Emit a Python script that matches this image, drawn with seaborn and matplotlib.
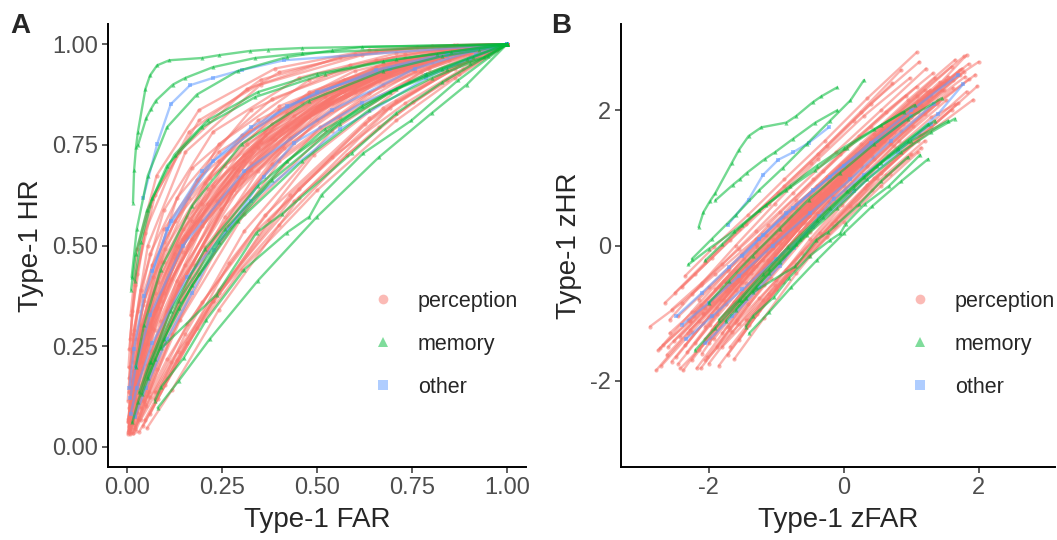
import matplotlib
matplotlib.use("Agg")
import matplotlib.pyplot as plt
from matplotlib.lines import Line2D
from matplotlib.ticker import FixedLocator, StrMethodFormatter
from statistics import NormalDist
import pandas as pd
import seaborn as sns

# ---------------- data (z-space ROC points) ----------------
categories = ["perception", "memory", "other"]
cat_colors = ["#F8766D", "#00BA38", "#619CFF"]
cat_markers = ["o", "^", "s"]

perception_zfar = [
    [-2.87, -2.40, -1.90, -1.30, -0.70, -0.05, 0.55],
    [-2.78, -2.30, -1.75, -1.10, -0.45, 0.20, 0.90],
    [-2.70, -2.25, -1.70, -1.05, -0.35, 0.40, 1.15],
    [-2.60, -2.05, -1.45, -0.80, -0.10, 0.65, 1.40],
    [-2.55, -2.10, -1.55, -0.95, -0.30, 0.40, 1.08],
    [-2.48, -2.00, -1.45, -0.85, -0.20, 0.45, 1.10],
    [-2.42, -1.95, -1.40, -0.78, -0.12, 0.55, 1.25],
    [-2.38, -1.90, -1.35, -0.70, 0.00, 0.70, 1.45],
    [-2.30, -1.85, -1.30, -0.65, 0.05, 0.80, 1.55],
    [-2.25, -1.80, -1.25, -0.60, 0.10, 0.85, 1.62],
    [-2.20, -1.75, -1.20, -0.55, 0.15, 0.90, 1.70],
    [-2.15, -1.70, -1.15, -0.52, 0.18, 0.95, 1.75],
    [-2.10, -1.65, -1.10, -0.45, 0.25, 1.00, 1.80],
    [-2.05, -1.60, -1.05, -0.40, 0.30, 1.05, 1.85],
    [-2.00, -1.55, -1.00, -0.35, 0.35, 1.10, 1.92],
    [-1.95, -1.50, -0.95, -0.30, 0.40, 1.15, 2.00],
    [-1.88, -1.42, -0.88, -0.25, 0.45, 1.20, 1.95],
    [-1.80, -1.35, -0.82, -0.18, 0.50, 1.25, 1.72],
    [-1.72, -1.28, -0.75, -0.12, 0.55, 1.30, 1.98],
    [-1.65, -1.20, -0.68, -0.05, 0.62, 1.35, 1.82],
    [-2.65, -2.20, -1.68, -1.10, -0.48, 0.15, 0.72],
    [-2.50, -2.05, -1.55, -0.98, -0.38, 0.25, 0.85],
    [-2.35, -1.92, -1.42, -0.88, -0.28, 0.35, 1.08],
    [-2.45, -2.00, -1.50, -0.90, -0.25, 0.45, 1.20],
    [-2.58, -2.12, -1.60, -1.00, -0.35, 0.30, 1.00],
    [-2.20, -1.78, -1.28, -0.70, -0.05, 0.62, 1.35],
    [-1.90, -1.48, -0.98, -0.40, 0.25, 0.95, 1.65],
    [-1.55, -1.12, -0.62, -0.02, 0.65, 1.30, 1.65],
    [-1.45, -1.02, -0.50, 0.10, 0.75, 1.40, 1.85],
    [-2.05, -1.62, -1.12, -0.55, 0.08, 0.75, 1.45],
    [-2.75, -2.28, -1.75, -1.15, -0.50, 0.18, 0.88],
    [-2.32, -1.88, -1.38, -0.80, -0.15, 0.55, 1.28],
    [-1.98, -1.55, -1.05, -0.48, 0.15, 0.85, 1.60],
    [-2.12, -1.68, -1.18, -0.62, 0.02, 0.70, 1.40],
    [-1.75, -1.32, -0.82, -0.25, 0.40, 1.08, 1.78],
    [-2.62, -2.15, -1.62, -1.02, -0.38, 0.28, 0.95],
    [-2.28, -1.82, -1.30, -0.72, -0.08, 0.60, 1.30],
    [-2.18, -1.72, -1.22, -0.65, 0.00, 0.68, 1.38],
    [-1.85, -1.40, -0.90, -0.32, 0.32, 1.00, 1.70],
    [-2.40, -1.95, -1.45, -0.88, -0.25, 0.40, 1.12],
    [-2.00, -1.58, -1.08, -0.52, 0.10, 0.78, 1.48],
    [-1.70, -1.28, -0.80, -0.22, 0.42, 1.10, 1.78],
    [-2.52, -2.08, -1.58, -1.00, -0.40, 0.25, 0.92],
    [-1.62, -1.18, -0.70, -0.12, 0.50, 1.15, 1.60],
    [-2.08, -1.65, -1.15, -0.58, 0.05, 0.72, 1.42],
    [-2.42, -1.98, -1.48, -0.92, -0.30, 0.35, 1.02],
    [-1.95, -1.52, -1.02, -0.45, 0.18, 0.85, 1.52],
    [-2.68, -2.22, -1.70, -1.12, -0.50, 0.15, 0.82],
    [-1.78, -1.35, -0.85, -0.28, 0.35, 1.02, 1.72],
    [-2.25, -1.80, -1.30, -0.75, -0.12, 0.55, 1.22],
    [-2.55, -2.08, -1.55, -0.95, -0.30, 0.38, 1.05],
    [-2.35, -1.88, -1.35, -0.75, -0.10, 0.58, 1.28],
    [-2.15, -1.70, -1.18, -0.58, 0.08, 0.75, 1.48],
    [-1.92, -1.48, -0.98, -0.40, 0.25, 0.92, 1.62],
    [-2.72, -2.25, -1.72, -1.12, -0.45, 0.22, 0.92],
    [-2.45, -1.98, -1.45, -0.85, -0.20, 0.48, 1.18],
    [-2.02, -1.58, -1.08, -0.50, 0.15, 0.82, 1.52],
    [-1.68, -1.25, -0.75, -0.18, 0.45, 1.12, 1.82],
    [-2.28, -1.82, -1.30, -0.70, -0.05, 0.62, 1.32],
    [-2.58, -2.12, -1.60, -1.02, -0.38, 0.30, 0.98],
    [-1.45, -1.10, -0.70, -0.25, 0.20, 0.68, 1.15],
    [-1.80, -1.42, -1.00, -0.52, 0.00, 0.55, 1.10],
    [-1.60, -1.25, -0.85, -0.40, 0.10, 0.62, 1.20],
    [-2.05, -1.65, -1.20, -0.70, -0.15, 0.42, 1.00],
]
perception_zhr = [
    [-1.20, -0.85, -0.42, 0.10, 0.62, 1.15, 1.62],
    [-1.85, -1.29, -0.68, 0.00, 0.63, 1.25, 1.83],
    [-1.78, -1.28, -0.66, 0.04, 0.75, 1.45, 2.08],
    [-1.50, -0.92, -0.30, 0.36, 1.05, 1.75, 2.35],
    [-0.95, -0.55, -0.05, 0.50, 1.10, 1.75, 2.35],
    [-1.65, -1.06, -0.41, 0.26, 0.95, 1.55, 2.14],
    [-1.35, -0.82, -0.23, 0.43, 1.07, 1.70, 2.28],
    [-1.85, -1.19, -0.49, 0.27, 1.00, 1.65, 2.30],
    [-1.10, -0.62, -0.10, 0.52, 1.15, 1.85, 2.50],
    [-1.70, -1.10, -0.42, 0.33, 1.05, 1.70, 2.33],
    [-1.45, -0.86, -0.21, 0.49, 1.20, 1.90, 2.56],
    [-0.80, -0.35, 0.15, 0.75, 1.35, 2.00, 2.62],
    [-1.60, -0.95, -0.25, 0.49, 1.20, 1.90, 2.50],
    [-1.20, -0.66, -0.04, 0.66, 1.35, 2.05, 2.69],
    [-1.75, -1.16, -0.51, 0.19, 0.90, 1.55, 2.16],
    [-1.05, -0.54, 0.04, 0.72, 1.40, 2.15, 2.72],
    [-1.50, -0.87, -0.18, 0.55, 1.28, 1.95, 2.53],
    [-1.30, -0.67, -0.01, 0.73, 1.45, 2.15, 2.52],
    [-1.62, -1.02, -0.35, 0.36, 1.07, 1.75, 2.36],
    [-0.95, -0.39, 0.23, 0.91, 1.60, 2.32, 2.82],
    [-0.85, -0.42, 0.08, 0.62, 1.22, 1.85, 2.40],
    [-0.70, -0.25, 0.25, 0.78, 1.35, 1.98, 2.60],
    [-0.45, -0.02, 0.45, 0.98, 1.55, 2.18, 2.86],
    [-1.05, -0.62, -0.12, 0.42, 1.02, 1.65, 2.30],
    [-1.30, -0.88, -0.38, 0.18, 0.78, 1.40, 2.02],
    [-0.98, -0.52, -0.02, 0.55, 1.18, 1.82, 2.48],
    [-0.65, -0.20, 0.30, 0.88, 1.50, 2.15, 2.75],
    [-1.40, -0.79, -0.11, 0.60, 1.33, 1.90, 2.09],
    [-1.18, -0.58, 0.09, 0.79, 1.48, 2.12, 2.46],
    [-1.38, -0.83, -0.22, 0.44, 1.10, 1.75, 2.39],
    [-1.55, -1.12, -0.62, -0.05, 0.55, 1.18, 1.80],
    [-1.58, -1.01, -0.40, 0.26, 0.92, 1.60, 2.25],
    [-0.88, -0.42, 0.10, 0.68, 1.30, 1.98, 2.65],
    [-1.82, -1.25, -0.58, 0.12, 0.82, 1.50, 2.15],
    [-0.55, -0.10, 0.40, 0.98, 1.58, 2.22, 2.80],
    [-1.62, -1.12, -0.57, 0.06, 0.70, 1.33, 1.93],
    [-1.25, -0.80, -0.30, 0.28, 0.90, 1.55, 2.22],
    [-1.82, -1.20, -0.52, 0.18, 0.88, 1.52, 2.10],
    [-1.78, -1.18, -0.54, 0.16, 0.85, 1.50, 2.11],
    [-0.62, -0.18, 0.32, 0.88, 1.48, 2.10, 2.72],
    [-1.45, -0.86, -0.24, 0.44, 1.12, 1.78, 2.41],
    [-1.20, -0.65, -0.04, 0.65, 1.33, 1.97, 2.57],
    [-1.42, -1.00, -0.50, 0.05, 0.65, 1.28, 1.92],
    [-1.68, -1.07, -0.41, 0.30, 1.00, 1.63, 2.01],
    [-1.02, -0.58, -0.08, 0.50, 1.12, 1.78, 2.42],
    [-1.82, -1.37, -0.77, -0.12, 0.53, 1.17, 1.77],
    [-1.25, -0.71, -0.12, 0.54, 1.20, 1.85, 2.45],
    [-1.48, -1.05, -0.55, 0.00, 0.60, 1.22, 1.85],
    [-0.80, -0.35, 0.15, 0.72, 1.35, 1.98, 2.60],
    [-0.72, -0.28, 0.22, 0.78, 1.38, 2.00, 2.62],
    [-1.72, -1.15, -0.52, 0.15, 0.85, 1.52, 2.08],
    [-1.48, -0.92, -0.30, 0.38, 1.08, 1.72, 2.30],
    [-1.55, -0.98, -0.35, 0.35, 1.05, 1.68, 2.30],
    [-1.38, -0.82, -0.20, 0.48, 1.18, 1.85, 2.45],
    [-1.52, -0.98, -0.38, 0.30, 0.98, 1.62, 2.22],
    [-1.75, -1.18, -0.55, 0.12, 0.82, 1.48, 2.05],
    [-1.65, -1.10, -0.48, 0.20, 0.90, 1.55, 2.15],
    [-1.50, -0.95, -0.35, 0.32, 1.00, 1.65, 2.28],
    [-1.12, -0.58, 0.02, 0.68, 1.35, 1.98, 2.55],
    [-1.10, -0.58, 0.00, 0.62, 1.28, 1.92, 2.48],
    [-1.10, -0.72, -0.30, 0.13, 0.60, 1.06, 1.45],
    [-1.50, -1.10, -0.65, -0.15, 0.35, 0.88, 1.38],
    [-1.15, -0.78, -0.36, 0.10, 0.58, 1.05, 1.55],
    [-1.70, -1.28, -0.80, -0.28, 0.28, 0.82, 1.35],
]

memory_zfar = [
    [-2.15, -2.08, -1.98, -1.90, -1.66, -1.55, -1.41, -1.22, -0.85, -0.70, -0.46, -0.33, -0.10],
    [-1.90, -1.64, -1.53, -1.43, -1.17, -1.02, -0.75, -0.42, -0.10],
    [-2.25, -1.95, -1.60, -1.25, -0.90, -0.55, -0.20, 0.10, 0.30],
    [-1.45, -1.34, -1.04, -0.81, -0.50, -0.20, -0.05, 0.03, 0.31, 0.67, 1.13],
    [-1.34, -0.72, -0.41, -0.23, 0.23, 0.55, 0.95],
    [-1.75, -1.45, -1.10, -0.70, -0.30, 0.15, 0.55, 0.95, 1.35],
    [-2.05, -1.80, -1.50, -1.15, -0.80, -0.40, 0.00, 0.45, 0.90],
    [-2.30, -2.00, -1.62, -1.25, -0.85, -0.42, 0.05, 0.55, 1.05],
    [-1.85, -1.55, -1.20, -0.82, -0.40, 0.05, 0.50, 1.00, 1.55],
    [-2.20, -1.90, -1.52, -1.10, -0.65, -0.20, 0.30, 0.80, 1.25],
    [-1.40, -1.10, -0.78, -0.40, 0.00, 0.42, 0.85, 1.25],
    [-1.60, -1.30, -0.95, -0.55, -0.10, 0.35, 0.85, 1.30, 1.65],
    [-2.00, -1.70, -1.35, -0.95, -0.52, -0.05, 0.45, 0.95, 1.45],
]
memory_zhr = [
    [0.27, 0.49, 0.66, 0.78, 1.22, 1.42, 1.62, 1.75, 1.82, 1.92, 2.12, 2.21, 2.34],
    [0.67, 0.90, 0.99, 1.08, 1.28, 1.38, 1.58, 1.82, 2.00],
    [-0.20, 0.10, 0.45, 0.82, 1.15, 1.50, 1.85, 2.15, 2.45],
    [-1.20, -1.04, -0.77, -0.48, -0.15, 0.08, 0.18, 0.32, 0.61, 0.88, 1.34],
    [-0.69, -0.31, 0.08, 0.20, 0.61, 0.95, 1.31],
    [-1.12, -0.78, -0.40, 0.02, 0.42, 0.85, 1.22, 1.55, 1.85],
    [-0.22, 0.02, 0.30, 0.60, 0.88, 1.18, 1.45, 1.72, 1.98],
    [-0.28, -0.05, 0.22, 0.52, 0.82, 1.12, 1.45, 1.78, 2.08],
    [-1.10, -0.80, -0.42, -0.02, 0.38, 0.80, 1.18, 1.55, 1.85],
    [-1.55, -1.22, -0.80, -0.35, 0.10, 0.55, 1.02, 1.45, 1.80],
    [-1.30, -0.98, -0.62, -0.22, 0.18, 0.58, 0.95, 1.28],
    [-0.95, -0.62, -0.25, 0.15, 0.55, 0.98, 1.38, 1.68, 1.88],
    [-0.85, -0.52, -0.15, 0.25, 0.68, 1.08, 1.50, 1.88, 2.18],
]

other_zfar = [
    [-1.72, -1.41, -1.20, -0.97, -0.75, -0.52, -0.22],
    [-2.48, -2.10, -1.70, -1.25, -0.75, -0.20, 0.40, 1.00, 1.70],
    [-2.39, -2.00, -1.55, -1.05, -0.50, 0.10, 0.70, 1.33],
    [-2.34, -1.95, -1.50, -1.00, -0.45, 0.15, 0.80, 1.40, 1.77],
    [-1.50, -1.20, -0.85, -0.45, 0.00, 0.50, 1.00],
    [-2.05, -1.65, -1.25, -0.95, -0.74, -0.36, -0.15, 0.30, 0.80, 1.30],
]
other_zhr = [
    [0.30, 0.68, 1.04, 1.27, 1.38, 1.52, 1.75],
    [-1.05, -0.70, -0.32, 0.10, 0.55, 1.02, 1.52, 2.00, 2.53],
    [-1.17, -0.85, -0.45, 0.00, 0.48, 0.98, 1.55, 2.10],
    [-1.39, -1.05, -0.65, -0.20, 0.28, 0.80, 1.38, 1.95, 2.39],
    [-0.16, 0.15, 0.48, 0.82, 1.18, 1.55, 1.92],
    [-1.45, -1.05, -0.62, -0.30, -0.03, 0.44, 0.69, 1.05, 1.42, 1.80],
]

roc_end = (1.0, 1.0)  # every ROC in panel A terminates at (FAR, HR) = (1, 1)

# ---------------- build tidy frames ----------------
nd = NormalDist()
zrows, prows = [], []
series = {
    "perception": (perception_zfar, perception_zhr),
    "memory": (memory_zfar, memory_zhr),
    "other": (other_zfar, other_zhr),
}
for cat, (zf_list, zh_list) in series.items():
    for i, (zf, zh) in enumerate(zip(zf_list, zh_list)):
        cid = f"{cat}_{i}"
        for k, (a, b) in enumerate(zip(zf, zh)):
            zrows.append(dict(type=cat, curve=cid, k=k, zFAR=a, zHR=b))
            prows.append(dict(type=cat, curve=cid, k=k, FAR=nd.cdf(a), HR=nd.cdf(b)))
        prows.append(dict(type=cat, curve=cid, k=len(zf), FAR=roc_end[0], HR=roc_end[1]))
dz = pd.DataFrame(zrows)
dp = pd.DataFrame(prows)

# ---------------- styling ----------------
sns.set_style("ticks")
plt.rcParams["font.family"] = ["Liberation Sans", "DejaVu Sans"]
plt.rcParams["axes.unicode_minus"] = False

W, H = 1057, 540
fig = plt.figure(figsize=(W / 100, H / 100), dpi=100)
axA = fig.add_axes([108 / W, 1 - 467 / H, (526 - 108) / W, (467 - 24) / H])
axB = fig.add_axes([621 / W, 1 - 467 / H, (1055 - 621) / W, (467 - 24) / H])

cmap = dict(zip(categories, cat_colors))
mmap = dict(zip(categories, cat_markers))
draw_order = ["perception", "other", "memory"]

def draw(ax, df, x, y):
    for cat in draw_order:
        sub = df[df["type"] == cat]
        sns.lineplot(data=sub, x=x, y=y, units="curve", estimator=None, sort=False,
                     color=cmap[cat], marker=mmap[cat], markersize=3.0,
                     markeredgewidth=0, linewidth=1.7, alpha=0.55, ax=ax, legend=False)

draw(axA, dp, "FAR", "HR")
draw(axB, dz, "zFAR", "zHR")

axA.set_xlim(-0.05, 1.05)
axA.set_ylim(-0.05, 1.05)
ticksA = [0, 0.25, 0.5, 0.75, 1.0]
axA.xaxis.set_major_locator(FixedLocator(ticksA))
axA.yaxis.set_major_locator(FixedLocator(ticksA))
axA.xaxis.set_major_formatter(StrMethodFormatter("{x:.2f}"))
axA.yaxis.set_major_formatter(StrMethodFormatter("{x:.2f}"))
axA.set_xlabel("Type-1 FAR", fontsize=20, labelpad=6)
axA.set_ylabel("Type-1 HR", fontsize=20, labelpad=6)

axB.set_xlim(-3.30, 3.13)
axB.set_ylim(-3.28, 3.28)
axB.xaxis.set_major_locator(FixedLocator([-2, 0, 2]))
axB.yaxis.set_major_locator(FixedLocator([-2, 0, 2]))
axB.set_xlabel("Type-1 zFAR", fontsize=20, labelpad=6)
axB.set_ylabel("Type-1 zHR", fontsize=20, labelpad=6)

for ax in (axA, axB):
    sns.despine(ax=ax)
    for s in ("left", "bottom"):
        ax.spines[s].set_color("black")
        ax.spines[s].set_linewidth(1.4)
    ax.tick_params(axis="both", labelsize=17, labelcolor="#4D4D4D", color="#333333",
                   length=4, width=1.1, pad=3)

handles = [Line2D([], [], linestyle="none", marker=m, color=c, markersize=7,
                  markeredgewidth=0, alpha=0.5) for c, m in zip(cat_colors, cat_markers)]
leg_kw = dict(frameon=False, fontsize=15.5, borderpad=0, borderaxespad=0, handlelength=1.0,
              handletextpad=1.13, labelspacing=1.02, loc="upper left",
              bbox_transform=fig.transFigure)
axA.legend(handles, categories, bbox_to_anchor=(372 / W, 1 - 291 / H), **leg_kw)
axB.legend(handles, categories, bbox_to_anchor=(909 / W, 1 - 291 / H), **leg_kw)

fig.text(10 / W, 1 - 33 / H, "A", fontsize=20, fontweight="bold", va="baseline")
fig.text(551 / W, 1 - 33 / H, "B", fontsize=20, fontweight="bold", va="baseline")

fig.savefig("out.png", dpi=100)
